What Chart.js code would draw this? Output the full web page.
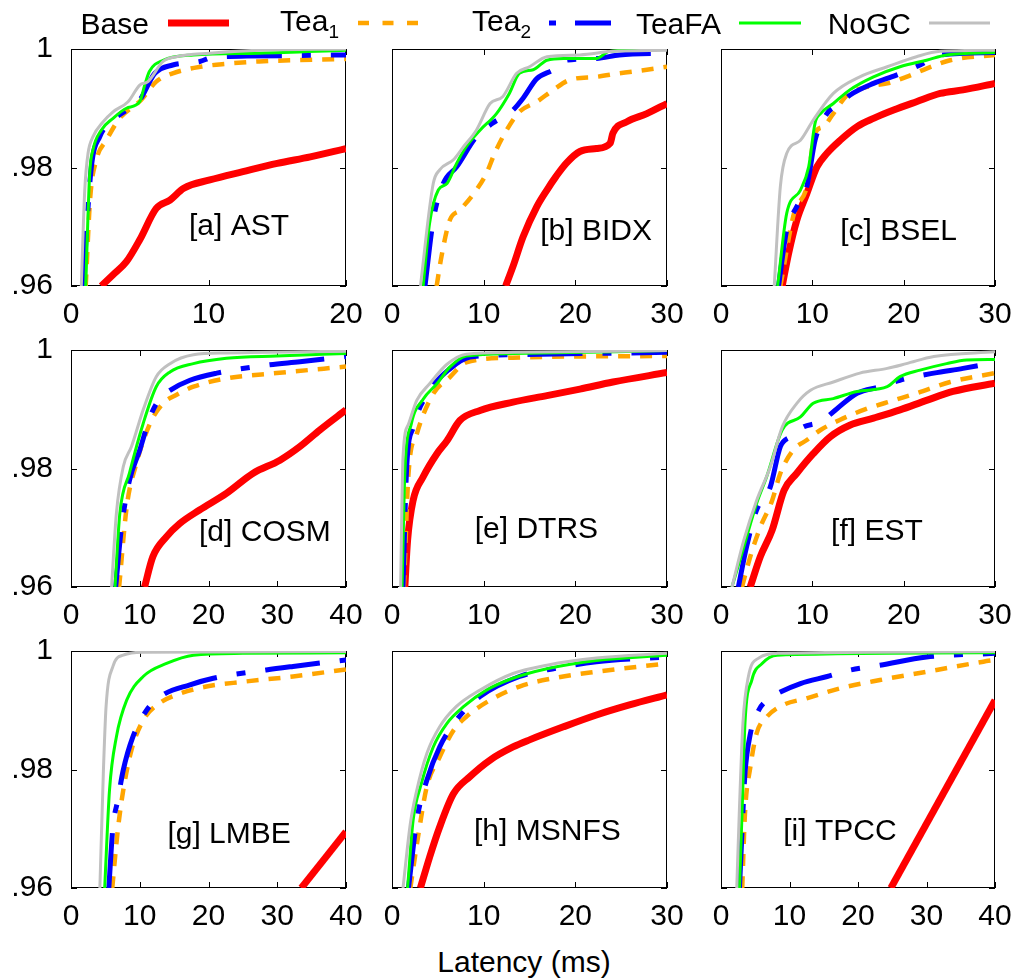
<!DOCTYPE html>
<html>
<head>
<meta charset="utf-8">
<script src="https://cdn.jsdelivr.net/npm/chart.js@4.4.1/dist/chart.umd.min.js"></script>
<style>
  html, body { margin: 0; padding: 0; background: #fff; }
  body { width: 1020px; height: 980px; position: relative; overflow: hidden;
         font-family: "Liberation Sans", Arial, sans-serif; color: #000; }
  canvas.panel { position: absolute; }
  .txt { position: absolute; font-size: 30px; line-height: 30px; white-space: nowrap; text-align: right; width: 200px; }
  .txt .sub { font-size: 19px; line-height: 0; vertical-align: -7px; }
  #xtitle { position: absolute; left: 324px; width: 400px; top: 947px; text-align: center; font-size: 30px; line-height: 30px; }
  #legendLines { position: absolute; left: 0; top: 0; }
</style>
</head>
<body>
<script>
// ---------------- DATA ----------------
const seriesNames = ['Base', 'Tea\u2081', 'Tea\u2082', 'TeaFA', 'NoGC'];
const panelTitles = ['[a] AST', '[b] BIDX', '[c] BSEL', '[d] COSM', '[e] DTRS', '[f] EST', '[g] LMBE', '[h] MSNFS', '[i] TPCC'];
const xMaxes = [20, 30, 30, 40, 30, 30, 40, 30, 40];
const xTickStep = 10;
const yTickLabels = ['.96', '.98', '1'];

// [a] AST
const AST_Base = [[2.2,.9600],[3.06,.9619],[4.03,.9641],[5.0,.9678],[6.2,.9731],[7.2,.9745],[8.2,.9765],[10.1,.9779],[12.5,.9793],[15,.9807],[17.4,.9818],[20,.9832]];
const AST_Tea1 = [[1.07,.96],[1.4,.975],[1.84,.9813],[2.57,.9846],[3.54,.9883],[5.1,.9914],[6.2,.9945],[7.4,.9959],[9.4,.997],[11.3,.9975],[13.7,.9979],[20,.9983]];
const AST_Tea2 = [[0.87,.96],[1.48,.9801],[2.09,.9852],[3.06,.988],[4.03,.9897],[5,.9914],[6.1,.9959],[7.4,.9973],[9.37,.9979],[10.3,.9986],[12.8,.9988],[20,.999]];
const AST_TeaFA = [[1.07,.96],[1.36,.979],[1.6,.983],[2.2,.9863],[3.06,.9883],[4.03,.99],[5,.9911],[5.36,.9939],[5.7,.9962],[6.7,.9981],[8.9,.999],[13.7,.9993],[20,.9998]];
const AST_NoGC = [[0.75,.96],[1.0,.9762],[1.24,.9824],[1.6,.9852],[2.33,.9877],[3.06,.9894],[4.15,.9911],[5,.9939],[5.6,.9945],[6.7,.9979],[7.67,.9987],[10.1,.9993],[13.7,.9998],[20,1.0]];
// [b] BIDX
const BIDX_Base = [[12.4,.96],[13.2,.9633],[14.3,.9683],[15.8,.9734],[16.9,.9762],[17.9,.9785],[19.0,.9807],[20.5,.9827],[22.3,.9832],[23.8,.9841],[24.1,.9858],[25.6,.9877],[27.8,.9891],[30,.9908]];
const BIDX_Tea1 = [[4.87,.96],[5.4,.965],[6.3,.9711],[7.4,.9728],[9.2,.9762],[10.3,.979],[11.2,.9824],[12.5,.9863],[13.9,.9894],[15.8,.9911],[17.6,.9931],[19.4,.9948],[22.3,.9953],[24.8,.9959],[27.8,.9965],[30,.997]];
const BIDX_Tea2 = [[3.6,.96],[4.5,.9711],[5.6,.9773],[7.05,.9801],[9.2,.9852],[11,.9875],[13.2,.9897],[14.3,.9917],[15.8,.995],[17.6,.9965],[19,.9981],[22.3,.9984],[24.8,.999],[30,.9993]];
const BIDX_TeaFA = [[3.4,.96],[4.1,.9706],[5.05,.9762],[6,.9773],[7.05,.9807],[8.1,.9835],[9.6,.9863],[11.4,.9891],[12.8,.9925],[13.9,.9959],[15.4,.9965],[16.9,.9981],[18.7,.9984],[22.3,.9984],[23.7,.9996],[30,1.0]];
const BIDX_NoGC = [[3.1,.96],[4.5,.9773],[5.2,.9796],[6.7,.9813],[7.8,.9835],[9.2,.9863],[10.7,.9908],[12.1,.992],[13.6,.9959],[15,.997],[16.9,.9987],[20.5,.999],[24.1,.9996],[30,.9998]];
// [c] BSEL
const BSEL_Base = [[6.7,.96],[7.4,.9655],[8.3,.9711],[9.4,.9756],[10.5,.9801],[11.6,.9824],[13.05,.9846],[14.9,.9869],[16.7,.9883],[18.9,.9897],[21.4,.9911],[24,.9925],[26.5,.9931],[30,.9942]];
const BSEL_Tea1 = [[6.5,.96],[8,.9723],[9.4,.9768],[10.3,.9858],[11.2,.9869],[12.3,.9891],[13.8,.9922],[16,.9936],[18.2,.9942],[20.3,.9953],[22.5,.9967],[25.1,.9981],[30,.999]];
const BSEL_Tea2 = [[6.3,.96],[7.2,.9695],[8.3,.9734],[9.4,.9768],[10.3,.9846],[11.6,.9891],[13.05,.9908],[14.1,.9922],[16.7,.9942],[19.2,.9956],[21.8,.9973],[24,.999],[30,.9994]];
const BSEL_TeaFA = [[6.2,.96],[7.2,.9723],[8.7,.9762],[9.6,.9801],[10.3,.9875],[10.9,.9891],[12.3,.9908],[14.1,.9931],[16.7,.9953],[19.6,.997],[22.5,.9981],[24.7,.999],[30,.9994]];
const BSEL_NoGC = [[5.83,.96],[6.5,.9768],[7.2,.9824],[8.7,.9846],[10.1,.988],[12.3,.9925],[15.2,.9953],[18.2,.997],[21.4,.9987],[24,.9996],[30,.9998]];
// [d] COSM
const COSM_Base = [[10.7,.96],[11.9,.9651],[13.9,.9685],[15.8,.9707],[18.7,.973],[22.6,.9758],[26.5,.9792],[30.4,.9814],[33.3,.9837],[36.2,.9865],[40,.9899]];
const COSM_Tea1 = [[7,.96],[8.1,.9735],[9.5,.9808],[11.5,.9876],[13.4,.991],[15.3,.9924],[17.8,.9938],[22.6,.9952],[29.9,.9961],[40,.9972]];
const COSM_Tea2 = [[6.5,.96],[7.3,.9696],[8.5,.978],[10,.9831],[11.5,.9887],[12.9,.9918],[14.4,.9932],[17.3,.9949],[21.2,.9961],[28.9,.9975],[33.3,.998],[40,.9989]];
const COSM_TeaFA = [[6.4,.96],[7.1,.9724],[8.5,.9792],[10.5,.9876],[12.4,.9938],[14.4,.9963],[17.8,.9977],[22.6,.9986],[29.9,.999],[40,.9994]];
const COSM_NoGC = [[5.9,.96],[6.6,.9724],[7.6,.9803],[8.8,.9837],[10.5,.9899],[12.4,.9955],[14.4,.9977],[17.8,.9992],[22.6,.9995],[40,.9998]];
// [e] DTRS
const DTRS_Base = [[1.4,.96],[1.7,.9679],[2.3,.9746],[3.4,.9786],[4.9,.9825],[6,.9847],[7.4,.9881],[9.6,.9898],[13.2,.9912],[16.9,.9923],[20.5,.9934],[24.1,.9946],[30,.9962]];
const DTRS_Tea1 = [[1.3,.96],[1.8,.9791],[2.7,.9858],[4.5,.9926],[6.3,.9954],[8.1,.9979],[13.2,.9987],[30,.999]];
const DTRS_Tea2 = [[1.2,.96],[1.6,.9802],[2.3,.9869],[4.1,.9931],[6.3,.9968],[8.5,.9988],[13.2,.9992],[30,.9996]];
const DTRS_TeaFA = [[1.1,.96],[1.4,.9791],[2.1,.9875],[3.4,.9917],[4.9,.9943],[6.3,.9971],[8.1,.999],[13.2,.9994],[30,.9999]];
const DTRS_NoGC = [[0.94,.96],[1.2,.9819],[1.8,.9875],[2.7,.9915],[4.1,.9943],[6,.9976],[8.1,.9993],[13.2,.9996],[30,.9999]];
// [f] EST
const EST_Base = [[3.2,.96],[4.3,.9651],[5.6,.9696],[6.9,.9763],[8.3,.9792],[10.1,.9825],[12,.9854],[14.1,.9873],[16.7,.9885],[19.6,.9899],[22.5,.9915],[25.4,.993],[30,.9944]];
const EST_Tea1 = [[2.3,.96],[3.2,.9651],[4.3,.9701],[5.6,.9746],[6.5,.9792],[7.9,.9831],[9.4,.9848],[10.9,.9865],[13,.9882],[16,.9901],[18.9,.9915],[21.4,.9927],[25.1,.9946],[30,.9961]];
const EST_Tea2 = [[1.9,.96],[2.8,.9668],[3.9,.973],[5.4,.9769],[6.5,.9837],[7.6,.9854],[9,.987],[10.9,.9879],[12.7,.9901],[14.9,.9927],[17.4,.9938],[19.6,.9949],[23.3,.9961],[26.5,.9969],[30,.9979]];
const EST_TeaFA = [[1.2,.96],[2.5,.9668],[3.9,.9741],[5,.9786],[6.7,.9865],[8.7,.9887],[10.1,.991],[12.3,.9918],[14.9,.993],[18.2,.9938],[19.6,.9955],[21.8,.9966],[24.7,.9977],[26.9,.9983],[30,.9984]];
const EST_NoGC = [[1.2,.96],[2.5,.9679],[3.9,.9746],[5.4,.9803],[6.7,.987],[8.3,.991],[9.8,.9932],[12.3,.9946],[15.2,.9961],[18.2,.9969],[20.3,.9977],[23.3,.9989],[30,.9997]];
// [g] LMBE
const LMBE_Base = [[33.5,.96],[40,.9695]];
const LMBE_Tea1 = [[6,.96],[6.8,.9697],[7.6,.9765],[8.8,.9833],[10.5,.9883],[12.9,.9912],[15.8,.9928],[19.7,.994],[25,.9948],[32.3,.9957],[40,.9969]];
const LMBE_Tea2 = [[5.5,.96],[6.1,.9703],[6.8,.9748],[7.6,.9799],[9,.9855],[11,.99],[13.4,.9926],[17.3,.9943],[20.7,.9954],[28.4,.9968],[32.3,.9974],[40,.9985]];
const LMBE_TeaFA = [[4.9,.96],[5.6,.9765],[6.6,.9855],[8.1,.9917],[10.5,.9957],[13.9,.9979],[17.8,.9993],[25,.9996],[40,.9997]];
const LMBE_NoGC = [[4.2,.96],[4.7,.9793],[5.1,.9906],[6.1,.9974],[7.6,.9993],[10.5,.9998],[40,.9999]];
// [h] MSNFS
const MSNFS_Base = [[3.1,.96],[4.1,.9652],[5.2,.9703],[6.7,.9759],[8.5,.9788],[10.7,.9816],[13.2,.9838],[15,.985],[18.7,.9872],[22.3,.9892],[25.9,.9909],[30,.9926]];
const MSNFS_Tea1 = [[2,.96],[2.9,.9692],[3.8,.9771],[5.2,.9821],[6.7,.9866],[8.1,.9889],[10.7,.9917],[13.9,.994],[17.6,.9954],[22.3,.9965],[30,.9979]];
const MSNFS_Tea2 = [[1.8,.96],[2.7,.9714],[3.8,.9782],[5.2,.9838],[7,.9883],[9.6,.9923],[13.9,.9957],[17.9,.9971],[22.3,.9982],[30,.999]];
const MSNFS_TeaFA = [[1.7,.96],[2.3,.9714],[3.2,.9776],[4.5,.9838],[6,.9878],[7.8,.9906],[10.3,.9934],[13.2,.9954],[16.9,.997],[22.3,.9984],[30,.9993]];
const MSNFS_NoGC = [[1.2,.96],[2,.9709],[2.7,.9765],[3.8,.9827],[5.2,.9872],[7,.9906],[9.6,.9934],[13.2,.9962],[16.9,.9976],[22.3,.9988],[30,.9996]];
// [i] TPCC
const TPCC_Base = [[24.8,.96],[40,.9917]];
const TPCC_Tea1 = [[3.1,.96],[3.5,.9726],[4.3,.9805],[5.2,.9861],[6.7,.9889],[9.1,.9909],[12.5,.992],[17.4,.9937],[23.2,.9951],[30,.9965],[38.3,.9982],[40,.9985]];
const TPCC_Tea2 = [[2.7,.96],[3.1,.9703],[3.5,.9793],[4.3,.9861],[5.5,.99],[6.7,.9917],[8.2,.9928],[11.6,.9945],[15.5,.9957],[18.9,.9968],[23.2,.9976],[30,.999],[40,.9996]];
const TPCC_TeaFA = [[2.7,.96],[3.1,.9737],[3.5,.9878],[4.5,.9951],[6,.9979],[8.2,.9993],[40,.9997]];
const TPCC_NoGC = [[2.3,.96],[2.7,.9737],[3.2,.9878],[4,.9957],[5.5,.9988],[8.2,.9996],[40,.9999]];

const panelSeries = [
  [AST_Base, AST_Tea1, AST_Tea2, AST_TeaFA, AST_NoGC],
  [BIDX_Base, BIDX_Tea1, BIDX_Tea2, BIDX_TeaFA, BIDX_NoGC],
  [BSEL_Base, BSEL_Tea1, BSEL_Tea2, BSEL_TeaFA, BSEL_NoGC],
  [COSM_Base, COSM_Tea1, COSM_Tea2, COSM_TeaFA, COSM_NoGC],
  [DTRS_Base, DTRS_Tea1, DTRS_Tea2, DTRS_TeaFA, DTRS_NoGC],
  [EST_Base, EST_Tea1, EST_Tea2, EST_TeaFA, EST_NoGC],
  [LMBE_Base, LMBE_Tea1, LMBE_Tea2, LMBE_TeaFA, LMBE_NoGC],
  [MSNFS_Base, MSNFS_Tea1, MSNFS_Tea2, MSNFS_TeaFA, MSNFS_NoGC],
  [TPCC_Base, TPCC_Tea1, TPCC_Tea2, TPCC_TeaFA, TPCC_NoGC]
];

// ---------------- LAYOUT / STYLE ----------------
const FONT = '"Liberation Sans", Arial, sans-serif';
const colLeft = [71, 392, 721], colWidth = [275, 275, 274];
const rowTop = [49, 350, 651], rowHeight = 237;
const PAD_L = 70, PAD_T = 40, PAD_R = 30, PAD_B = 50;
const titlePos = [[.611,.751],[.742,.772],[.648,.772],[.705,.772],[.525,.759],[.569,.768],[.575,.776],[.565,.764],[.434,.764]];
const seriesStyle = [
  { color: '#ff0000', width: 7,   dash: [] },
  { color: '#ffa500', width: 4.5, dash: [12, 10] },
  { color: '#0000ff', width: 5,   dash: [55, 20, 9, 20] },
  { color: '#00ff00', width: 3,   dash: [] },
  { color: '#c0c0c0', width: 3,   dash: [] }
];
const drawOrder = [5, 4, 3, 2, 1]; // NoGC on top

const framePlugin = {
  id: 'frame',
  beforeDatasetsDraw(chart, args, opts) {
    const { ctx, chartArea: a, scales: { x, y } } = chart;
    ctx.save();
    ctx.strokeStyle = '#000';
    ctx.lineWidth = 1;
    ctx.strokeRect(a.left + 0.5, a.top + 0.5, a.right - a.left - 1, a.bottom - a.top - 1);
    ctx.beginPath();
    x.ticks.forEach(t => {
      const px = Math.round(x.getPixelForValue(t.value)) + 0.5;
      ctx.moveTo(px, a.bottom); ctx.lineTo(px, a.bottom - 6);
      ctx.moveTo(px, a.top); ctx.lineTo(px, a.top + 6);
    });
    y.ticks.forEach(t => {
      const py = Math.round(y.getPixelForValue(t.value)) + 0.5;
      ctx.moveTo(a.left, py); ctx.lineTo(a.left + 6, py);
      ctx.moveTo(a.right, py); ctx.lineTo(a.right - 6, py);
    });
    ctx.stroke();
    ctx.fillStyle = '#000';
    ctx.font = '30px ' + FONT;
    ctx.textAlign = 'center';
    ctx.textBaseline = 'middle';
    ctx.fillText(opts.title, a.left + opts.fx * (a.right - a.left), a.top + opts.fy * (a.bottom - a.top));
    ctx.restore();
  }
};

panelTitles.forEach((title, p) => {
  const col = p % 3, row = Math.floor(p / 3);
  const w = colWidth[col], h = rowHeight;
  const cv = document.createElement('canvas');
  cv.className = 'panel';
  cv.width = w + PAD_L + PAD_R;
  cv.height = h + PAD_T + PAD_B;
  cv.style.left = (colLeft[col] - PAD_L) + 'px';
  cv.style.top = (rowTop[row] - PAD_T) + 'px';
  document.body.appendChild(cv);

  const datasets = panelSeries[p].map((pts, s) => ({
    label: seriesNames[s],
    data: pts.map(([x, y]) => ({ x, y })),
    borderColor: seriesStyle[s].color,
    backgroundColor: seriesStyle[s].color,
    borderWidth: seriesStyle[s].width,
    borderDash: seriesStyle[s].dash,
    borderCapStyle: 'butt',
    borderJoinStyle: 'round',
    pointRadius: 0,
    fill: false,
    cubicInterpolationMode: 'monotone',
    order: drawOrder[s]
  }));

  new Chart(cv, {
    type: 'line',
    data: { datasets },
    plugins: [framePlugin],
    options: {
      responsive: false,
      animation: false,
      devicePixelRatio: 1,
      layout: { padding: { left: 0, top: PAD_T, right: PAD_R, bottom: 0 } },
      plugins: {
        legend: { display: false },
        tooltip: { enabled: false },
        frame: { title, fx: titlePos[p][0], fy: titlePos[p][1] }
      },
      scales: {
        x: {
          type: 'linear', min: 0, max: xMaxes[p],
          afterFit: s => { s.height = PAD_B; },
          grid: { display: false }, border: { display: false },
          ticks: { stepSize: xTickStep, padding: 3, color: '#000', maxRotation: 0, autoSkip: false,
                   font: { family: FONT, size: 30 } }
        },
        y: {
          type: 'linear', min: 0.96, max: 1,
          afterFit: s => { s.width = PAD_L; },
          grid: { display: false }, border: { display: false },
          ticks: { stepSize: 0.02, padding: 10, color: '#000', display: col === 0,
                   callback: (v, i) => yTickLabels[i],
                   font: { family: FONT, size: 30 } }
        }
      }
    }
  });
});

// ---------------- LEGEND ----------------
const legendRight = [149, 339, 531, 721, 911];
const legendTop = [9, 6, 6, 9, 9];
const legendSample = [[168, 229], [358, 418], [549, 611], [739, 801], [929, 990]];
seriesNames.forEach((name, s) => {
  const d = document.createElement('div');
  d.className = 'txt';
  d.style.left = (legendRight[s] - 200) + 'px';
  d.style.top = legendTop[s] + 'px';
  if (s === 1 || s === 2) {
    d.appendChild(document.createTextNode('Tea'));
    const sub = document.createElement('span');
    sub.className = 'sub';
    sub.textContent = s === 1 ? '1' : '2';
    d.appendChild(sub);
  } else {
    d.textContent = name;
  }
  document.body.appendChild(d);
});
const svgNS = 'http://www.w3.org/2000/svg';
const svg = document.createElementNS(svgNS, 'svg');
svg.setAttribute('id', 'legendLines');
svg.setAttribute('width', '1020');
svg.setAttribute('height', '50');
const legendDash = ['', '11 13.5', '7 19 40', '', ''];
seriesNames.forEach((name, s) => {
  const l = document.createElementNS(svgNS, 'line');
  l.setAttribute('x1', legendSample[s][0]);
  l.setAttribute('x2', legendSample[s][1]);
  l.setAttribute('y1', 23);
  l.setAttribute('y2', 23);
  l.setAttribute('stroke', seriesStyle[s].color);
  l.setAttribute('stroke-width', seriesStyle[s].width);
  if (legendDash[s]) l.setAttribute('stroke-dasharray', legendDash[s]);
  svg.appendChild(l);
});
document.body.appendChild(svg);

const xt = document.createElement('div');
xt.id = 'xtitle';
xt.textContent = 'Latency (ms)';
document.body.appendChild(xt);
</script>
</body>
</html>
